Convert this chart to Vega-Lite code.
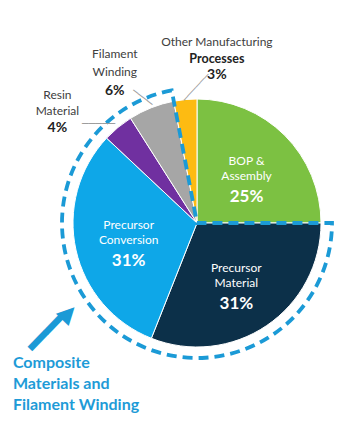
{
  "$schema": "https://vega.github.io/schema/vega-lite/v6.json",
  "autosize": "none",
  "width": 270,
  "height": 270,
  "padding": {"left": 62, "top": 88, "right": 7, "bottom": 66},
  "background": "white",
  "config": {"view": {"stroke": null}, "text": {"font": "Lato"}},
  "datasets": {
    "slices": [
      {"name": "BOP & Assembly", "label": "BOP &\nAssembly", "pct": "25%", "value": 25, "rank": 1},
      {"name": "Precursor Material", "label": "Precursor\nMaterial", "pct": "31%", "value": 31, "rank": 2},
      {"name": "Precursor Conversion", "label": "Precursor\nConversion", "pct": "31%", "value": 31, "rank": 3},
      {"name": "Resin Material", "label": "Resin\nMaterial", "pct": "4%", "value": 4, "rank": 4},
      {"name": "Filament Winding", "label": "Filament\nWinding", "pct": "6%", "value": 6, "rank": 5},
      {"name": "Other Manufacturing Processes", "label": "Other Manufacturing", "label2": "Processes", "pct": "3%", "value": 3, "rank": 6}
    ],
    "groups": [
      {"group": "BOP & Assembly", "value": 25, "rank": 1},
      {"group": "Composite", "label": "Composite\nMaterials and\nFilament Winding", "value": 72, "rank": 2},
      {"group": "Other Manufacturing Processes", "value": 3, "rank": 3}
    ]
  },
  "data": {"name": "slices"},
  "encoding": {
    "theta": {"field": "value", "type": "quantitative", "stack": true},
    "order": {"field": "rank", "type": "quantitative"}
  },
  "layer": [
    {
      "mark": {"type": "arc", "outerRadius": 124, "stroke": "white", "strokeWidth": 1},
      "encoding": {
        "color": {
          "field": "name", "type": "nominal", "legend": null,
          "scale": {
            "domain": ["BOP & Assembly", "Precursor Material", "Precursor Conversion", "Resin Material", "Filament Winding", "Other Manufacturing Processes"],
            "range": ["#7cc142", "#0c3049", "#0ea7e8", "#7030a0", "#a6a6a6", "#fdbb12"]
          }
        }
      }
    },
    {
      "data": {"name": "groups"},
      "mark": {"type": "arc", "outerRadius": 135, "fillOpacity": 0, "stroke": "#1b9ad6", "strokeWidth": 3.8, "strokeDash": [10, 6]},
      "encoding": {
        "strokeOpacity": {"condition": {"test": "datum.group === 'Composite'", "value": 1}, "value": 0}
      }
    },
    {
      "mark": {"type": "text", "radius": 70, "dy": -13, "fill": "white", "fontSize": 12, "lineHeight": 15, "lineBreak": "\n", "align": "center", "baseline": "middle"},
      "encoding": {"text": {"condition": {"test": "datum.value > 10", "field": "label"}, "value": ""}}
    },
    {
      "mark": {"type": "text", "radius": 70, "dy": 23, "fill": "white", "fontSize": 17, "fontWeight": "bold", "align": "center", "baseline": "middle"},
      "encoding": {"text": {"condition": {"test": "datum.value > 10", "field": "pct"}, "value": ""}}
    },
    {
      "mark": {"type": "text", "radius": 150, "dx": -44, "dy": -12.5, "fill": "#404040", "fontSize": 12, "lineHeight": 16, "lineBreak": "\n", "align": "center", "baseline": "middle"},
      "encoding": {"text": {"condition": {"test": "datum.name === 'Resin Material'", "field": "label"}, "value": ""}}
    },
    {
      "mark": {"type": "text", "radius": 150, "dx": -44, "dy": 20.5, "fill": "#222222", "fontSize": 14, "fontWeight": "bold", "align": "center", "baseline": "middle"},
      "encoding": {"text": {"condition": {"test": "datum.name === 'Resin Material'", "field": "pct"}, "value": ""}}
    },
    {
      "mark": {"type": "text", "radius": 150, "dx": -27, "dy": -29.5, "fill": "#404040", "fontSize": 12, "lineHeight": 18, "lineBreak": "\n", "align": "center", "baseline": "middle"},
      "encoding": {"text": {"condition": {"test": "datum.name === 'Filament Winding'", "field": "label"}, "value": ""}}
    },
    {
      "mark": {"type": "text", "radius": 150, "dx": -27, "dy": 7.5, "fill": "#222222", "fontSize": 14, "fontWeight": "bold", "align": "center", "baseline": "middle"},
      "encoding": {"text": {"condition": {"test": "datum.name === 'Filament Winding'", "field": "pct"}, "value": ""}}
    },
    {
      "mark": {"type": "text", "radius": 150, "dx": 34, "dy": -32, "fill": "#404040", "fontSize": 12, "align": "center", "baseline": "middle"},
      "encoding": {"text": {"condition": {"test": "datum.name === 'Other Manufacturing Processes'", "field": "label"}, "value": ""}}
    },
    {
      "mark": {"type": "text", "radius": 150, "dx": 34, "dy": -15, "fill": "#222222", "fontSize": 12.5, "fontWeight": "bold", "align": "center", "baseline": "middle"},
      "encoding": {"text": {"condition": {"test": "datum.name === 'Other Manufacturing Processes'", "field": "label2"}, "value": ""}}
    },
    {
      "mark": {"type": "text", "radius": 150, "dx": 34, "dy": 1, "fill": "#222222", "fontSize": 14, "fontWeight": "bold", "align": "center", "baseline": "middle"},
      "encoding": {"text": {"condition": {"test": "datum.name === 'Other Manufacturing Processes'", "field": "pct"}, "value": ""}}
    },
    {
      "mark": {"type": "text", "radius": 137, "dx": -11, "dy": 7, "angle": 0, "fill": "#9a9a9a", "font": "DejaVu Sans Mono", "fontSize": 11, "align": "center", "baseline": "middle"},
      "encoding": {"text": {"condition": {"test": "datum.name === 'Resin Material'", "value": "─────"}, "value": ""}}
    },
    {
      "mark": {"type": "text", "radius": 137, "dx": -2, "dy": 4, "angle": 37, "fill": "#9a9a9a", "font": "DejaVu Sans Mono", "fontSize": 10, "align": "center", "baseline": "middle"},
      "encoding": {"text": {"condition": {"test": "datum.name === 'Filament Winding'", "value": "────"}, "value": ""}}
    },
    {
      "mark": {"type": "text", "radius": 135, "dx": 9, "dy": 8, "angle": -47, "fill": "#9a9a9a", "font": "DejaVu Sans Mono", "fontSize": 10, "align": "center", "baseline": "middle"},
      "encoding": {"text": {"condition": {"test": "datum.name === 'Other Manufacturing Processes'", "value": "──────"}, "value": ""}}
    },
    {
      "data": {"name": "groups"},
      "mark": {"type": "text", "radius": 179, "dx": -5, "dy": -44.4, "angle": -46, "fill": "#1b9ad6", "font": "DejaVu Sans Mono", "fontSize": 38, "align": "center", "baseline": "middle"},
      "encoding": {"text": {"condition": {"test": "datum.group === 'Composite'", "value": "━━"}, "value": ""}}
    },
    {
      "data": {"name": "groups"},
      "mark": {"type": "text", "radius": 179, "dx": 24, "dy": -44.4, "angle": -46, "fill": "#1b9ad6", "font": "DejaVu Sans", "fontSize": 23, "align": "center", "baseline": "middle"},
      "encoding": {"text": {"condition": {"test": "datum.group === 'Composite'", "value": "▶"}, "value": ""}}
    },
    {
      "data": {"name": "groups"},
      "mark": {"type": "text", "radius": 179, "dx": -70, "dy": 2, "fill": "#1e9bd7", "fontSize": 16, "fontWeight": "bold", "lineHeight": 21, "lineBreak": "\n", "align": "left", "baseline": "middle"},
      "encoding": {"text": {"condition": {"test": "datum.group === 'Composite'", "field": "label"}, "value": ""}}
    }
  ]
}
